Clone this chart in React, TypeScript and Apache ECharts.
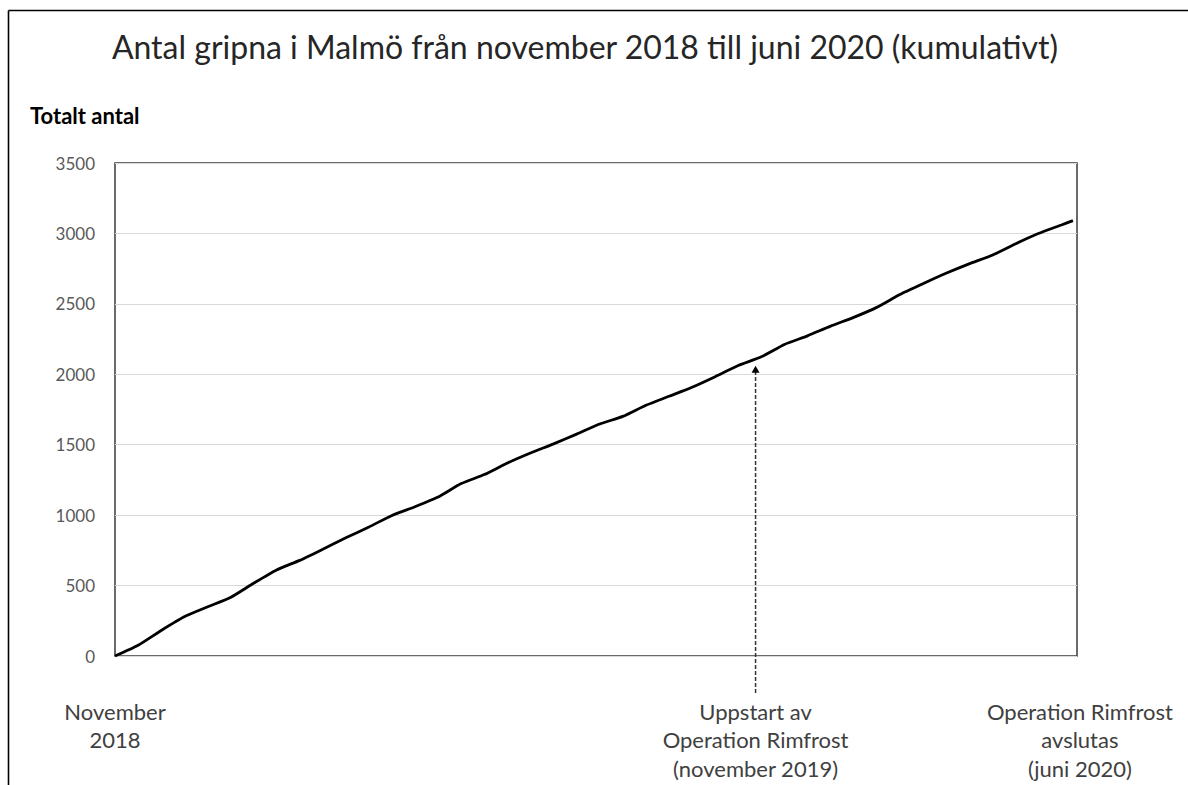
import React, { useEffect, useRef } from "react";
import * as echarts from "echarts";

const chartTitle = "Antal gripna i Malmö från november 2018 till juni 2020 (kumulativt)";
const yAxisTitle = "Totalt antal";

// week index since November 2018
const weeks = [
  0, 2, 4, 6, 8, 10, 12, 14, 16, 18, 20, 22, 24, 26, 28, 30, 32, 34, 36, 38, 40,
  42, 44, 46, 48, 50, 52, 54, 56, 58, 60, 62, 64, 66, 68, 70, 72, 74, 76, 78, 80,
  82, 83,
];
// cumulative number of arrests
const totals = [
  0, 76, 181, 278, 348, 415, 516, 611, 679, 758, 839, 916, 998, 1060, 1128, 1224,
  1288, 1370, 1441, 1506, 1575, 1647, 1701, 1780, 1844, 1908, 1983, 2062, 2124,
  2212, 2273, 2342, 2404, 2475, 2566, 2643, 2717, 2784, 2845, 2925, 2999, 3060,
  3091,
];

const yMin = 0;
const yMax = 3500;
const yStep = 500;
const xMax = 83.35;

const annotationWeeks = [0, 55.5, 83.6];
const annotationTexts = [
  "November\n2018",
  "Uppstart av\nOperation Rimfrost\n(november 2019)",
  "Operation Rimfrost\navslutas\n(juni 2020)",
];
const arrowWeek = 55.5;
const arrowValue = 2060;

const FONT = "Lato";

export default function App() {
  const ref = useRef<HTMLDivElement>(null);

  useEffect(() => {
    if (!ref.current) return;
    const chart = echarts.init(ref.current, null, { renderer: "svg" });
    chart.setOption({
      animation: false,
      backgroundColor: "#ffffff",
      grid: { left: 115, right: 111, top: 163, bottom: 129, show: true, borderColor: "#3a3a3a", borderWidth: 1.5, backgroundColor: "transparent" },
      xAxis: {
        type: "value",
        min: 0,
        max: xMax,
        axisLine: { show: false },
        axisTick: { show: false },
        axisLabel: { show: false },
        splitLine: { show: false },
      },
      yAxis: {
        type: "value",
        min: yMin,
        max: yMax,
        interval: yStep,
        axisLine: { show: false },
        axisTick: { show: false },
        axisLabel: { color: "#595959", fontSize: 17, fontFamily: FONT, margin: 20, formatter: (v: number) => String(v) },
        splitLine: { show: true, lineStyle: { color: "#d9d9d9", width: 1.2 } },
      },
      series: [
        {
          type: "line",
          data: weeks.map((w, i) => [w, totals[i]]),
          showSymbol: false,
          smooth: 0.2,
          lineStyle: { color: "#000000", width: 2.8 },
          z: 5,
        },
      ],
    });

    const [ax, ay] = chart.convertToPixel({ gridIndex: 0 }, [arrowWeek, arrowValue]) as number[];
    const [, y0] = chart.convertToPixel({ gridIndex: 0 }, [0, 0]) as number[];

    const labels = annotationWeeks.map((w, i) => {
      const [lx] = chart.convertToPixel({ gridIndex: 0 }, [w, 0]) as number[];
      return {
        type: "text",
        x: lx,
        y: 697,
        style: {
          text: annotationTexts[i],
          fontFamily: FONT,
          fontSize: 22,
          lineHeight: 28.5,
          fill: "#404040",
          align: "center",
          verticalAlign: "top",
        },
      };
    });

    chart.setOption({
      graphic: [
        { type: "line", shape: { x1: 8.5, y1: 10.5, x2: 1188, y2: 10.5 }, style: { stroke: "#000", lineWidth: 1.6 } },
        { type: "line", shape: { x1: 8.5, y1: 10.5, x2: 8.5, y2: 785 }, style: { stroke: "#000", lineWidth: 1.6 } },
        {
          type: "text",
          x: 585,
          y: 46,
          style: { text: chartTitle, fontFamily: FONT, fontSize: 32, fill: "#262626", align: "center", verticalAlign: "middle" },
        },
        {
          type: "text",
          x: 30,
          y: 115,
          style: { text: yAxisTitle, fontFamily: FONT, fontSize: 22, fontWeight: "bold", fill: "#000", align: "left", verticalAlign: "middle" },
        },
        {
          type: "line",
          shape: { x1: ax, y1: y0 + 37, x2: ax, y2: ay + 6 },
          style: { stroke: "#333", lineWidth: 1.5, lineDash: [4, 2] },
          z: 10,
        },
        {
          type: "polygon",
          shape: { points: [[ax, ay], [ax - 4, ay + 7], [ax + 4, ay + 7]] },
          style: { fill: "#000" },
          z: 10,
        },
        ...labels,
      ],
    });

    return () => chart.dispose();
  }, []);

  return <div ref={ref} style={{ position: "absolute", left: 0, top: 0, width: 1188, height: 785 }} />;
}
